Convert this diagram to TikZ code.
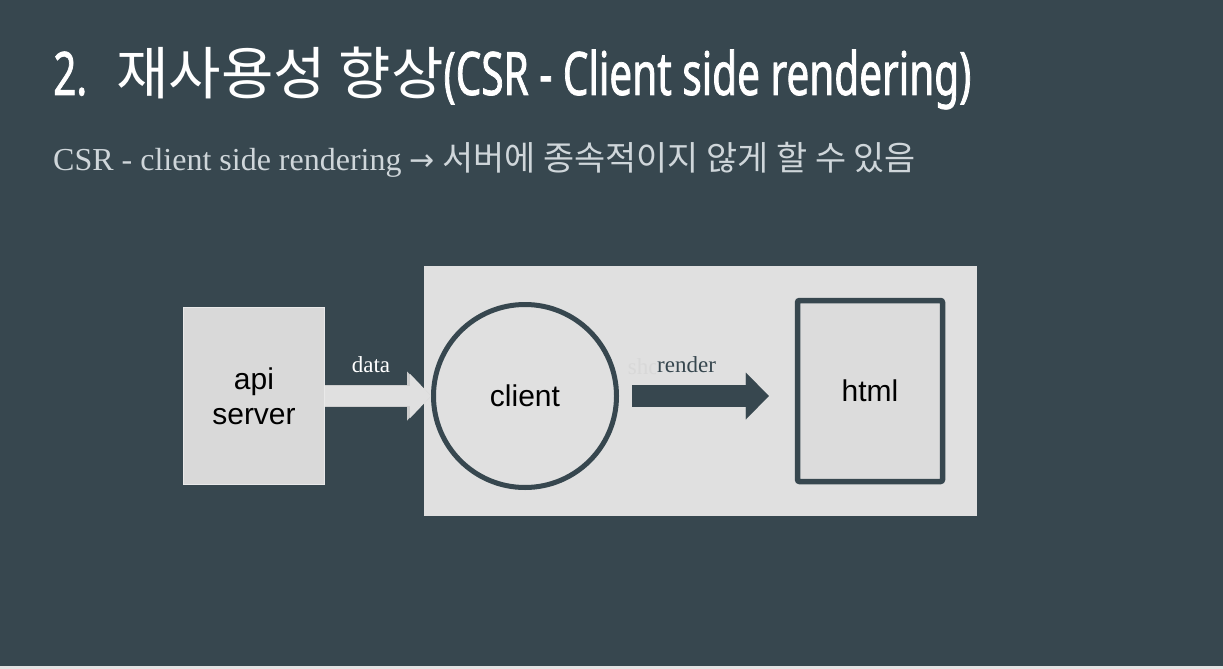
\documentclass[tikz,border=0pt]{standalone}
\usepackage{fontspec}
\usetikzlibrary{arrows.meta}
\setmainfont{Liberation Serif}
\newfontfamily\titlelat[FakeStretch=0.675, FakeBold=1.2]{Noto Sans}
\newfontfamily\titlekor{Noto Sans CJK KR}
\newfontfamily\korfont{Noto Sans CJK KR}
\newfontfamily\symfont{DejaVu Sans}
\newfontfamily\boxfont{Liberation Sans}
\definecolor{slate}{RGB}{55,71,79}
\definecolor{paper}{RGB}{224,224,224}
\definecolor{boxfill}{RGB}{217,217,217}
\definecolor{subgray}{RGB}{207,214,218}
\definecolor{ghost}{RGB}{216,216,216}
\begin{document}
\begin{tikzpicture}[x=1pt, y=-1pt,
    shape box/.style={draw=#1, fill=boxfill, inner sep=0pt, align=center,
      font=\boxfont\fontsize{30}{35}\selectfont, text=black},
    edge label/.style={inner sep=0pt, font=\fontsize{23}{23}\selectfont},
    blockarrow/.style={line width=22pt, draw=#1,
      -{Triangle[length=23pt, width=47pt, line width=0.01pt]}}]
  % Hintergrund
  \fill[slate] (0,0) rectangle (1223,669);
  \fill[paper!90!white] (0,666) rectangle (1223,669);
  \useasboundingbox (0,0) rectangle (1223,669);

  % Titel und Untertitel
  \node[anchor=base west, inner sep=0pt, text=white] (title) at (53,95)
    {\titlelat\fontsize{60}{60}\selectfont 2.\hspace{29pt}{\titlekor\fontsize{57}{57}\selectfont 재사용성 향상}(CSR - Client side rendering)};
  \node[anchor=base west, inner sep=0pt, text=subgray] (subtitle) at (53,170)
    {\fontsize{32}{32}\selectfont CSR - client side rendering {\symfont\fontsize{30}{30}\selectfont →} {\korfont\fontsize{33.8}{33.8}\selectfont 서버에 종속적이지 않게 할 수 있음}};

  % Browser-Bereich
  \fill[paper] (424,266) rectangle (977,516);

  % Knoten
  \node[shape box=paper!70!white, line width=1pt, minimum width=141pt, minimum height=177pt] (api) at (254,396) {api\\server};
  \node[circle, draw=slate, line width=5pt, inner sep=0pt, minimum size=183pt,
    font=\boxfont\fontsize{30}{30}\selectfont] (client) at (525,396) {client};
  \node[shape box=slate, line width=5.5pt, rounded corners=2pt, fill=boxfill!60!paper,
    minimum width=145pt, minimum height=181pt] (html) at (870,391) {html};

  % Pfeile
  \draw[blockarrow=paper!80!gray,
    -{Triangle[length=24pt, width=49pt, line width=0.01pt]}] (api.east) -- (client.west);
  \draw[blockarrow=paper, line width=20pt,
    -{Triangle[length=21pt, width=44pt, line width=0.01pt]}] (api.east) -- (client.west);
  \draw[blockarrow=slate, shorten <=13pt, shorten >=26pt] (client.east) -- (client.east -| html.west);

  % Beschriftungen
  \node[edge label, text=white] (data) at (371,365) {data};
  \node[edge label, text=ghost, anchor=east] (ghosttext) at (660,367) {sho};
  \node[edge label, text=slate, fill=paper, anchor=west, inner sep=1pt] (render) at (656,365) {render};
\end{tikzpicture}
\end{document}
